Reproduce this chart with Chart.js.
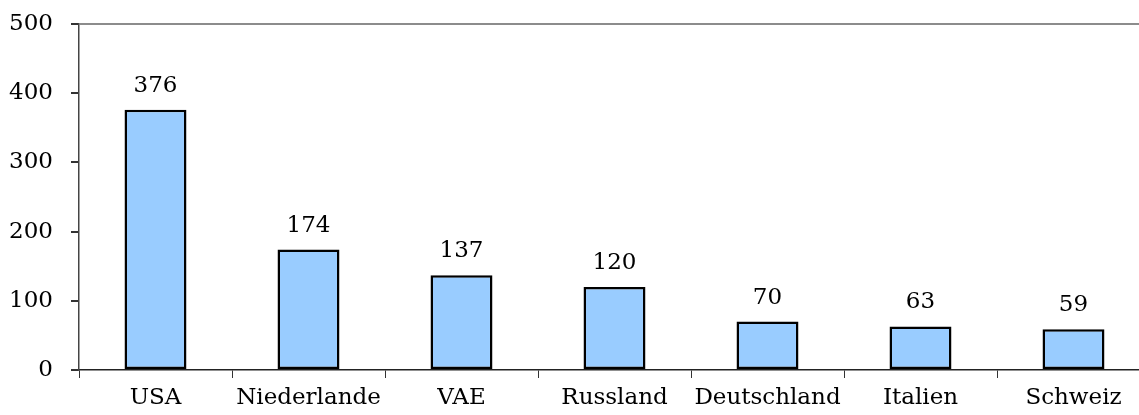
<!DOCTYPE html>
<html>
<head>
<meta charset="utf-8">
<script src="https://cdn.jsdelivr.net/npm/chart.js@4/dist/chart.umd.min.js"></script>
<style>
  html, body { margin: 0; padding: 0; background: #fff; overflow: hidden; }
  #wrap { width: 1152px; height: 415px; position: relative; }
</style>
</head>
<body>
<div id="wrap"><canvas id="chart"></canvas></div>
<script>
const countries = ['USA', 'Niederlande', 'VAE', 'Russland', 'Deutschland', 'Italien', 'Schweiz'];
const counts = [376, 174, 137, 120, 70, 63, 59];
const yTicks = [0, 100, 200, 300, 400, 500];

const FONT = "'DejaVu Serif', serif";
const FONT_SIZE = 23;

// draws the value above each bar
const valueLabels = {
    id: 'valueLabels',
    afterDatasetsDraw(chart) {
        const ctx = chart.ctx;
        const meta = chart.getDatasetMeta(0);
        ctx.save();
        ctx.font = `${FONT_SIZE}px ${FONT}`;
        ctx.fillStyle = '#000';
        ctx.textAlign = 'center';
        ctx.textBaseline = 'alphabetic';
        meta.data.forEach((bar, i) => {
            ctx.fillText(String(counts[i]), bar.x, bar.y - 18);
        });
        ctx.restore();
    }
};

new Chart(document.getElementById('chart'), {
    type: 'bar',
    data: {
        labels: countries,
        datasets: [{
            data: counts,
            backgroundColor: '#99ccff',
            borderColor: '#000',
            borderWidth: 2.5,
            borderSkipped: false,
            categoryPercentage: 1,
            barPercentage: 0.405
        }]
    },
    options: {
        responsive: true,
        maintainAspectRatio: false,
        animation: false,
        layout: { padding: { top: 24, right: 2, left: 0, bottom: 0 } },
        plugins: { legend: { display: false }, tooltip: { enabled: false } },
        scales: {
            x: {
                offset: true,
                grid: { offset: true, color: 'transparent', tickColor: '#333', tickLength: 8, drawOnChartArea: false },
                border: { color: '#222', width: 1.5 },
                ticks: { color: '#000', font: { family: FONT, size: FONT_SIZE }, padding: 6, maxRotation: 0, autoSkip: false },
                afterFit(scale) { scale.height = 45; }
            },
            y: {
                min: 0,
                max: 500,
                afterBuildTicks(scale) { scale.ticks = yTicks.map(v => ({ value: v })); },
                grid: {
                    color: ctx => ctx.tick && ctx.tick.value === 500 ? '#8c8c8c' : 'transparent',
                    lineWidth: 2,
                    tickColor: '#333',
                    tickLength: 8
                },
                border: { color: '#444', width: 1.5 },
                ticks: { color: '#000', font: { family: FONT, size: FONT_SIZE }, padding: 18 },
                afterFit(scale) {
                    scale.width = 79;
                    scale.paddingTop = 0;
                    scale.paddingBottom = 0;
                }
            }
        }
    },
    plugins: [valueLabels]
});
</script>
</body>
</html>
